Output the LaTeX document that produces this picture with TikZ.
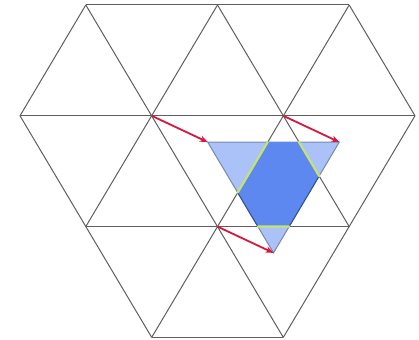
\documentclass[tikz,border=0pt]{standalone}
\usetikzlibrary{arrows.meta,calc}
\definecolor{lightb}{RGB}{170,194,248}
\definecolor{darkb}{RGB}{92,136,240}
\definecolor{edgeb}{RGB}{120,136,170}
\definecolor{edged}{RGB}{50,80,150}
\definecolor{greenl}{RGB}{196,228,110}
\definecolor{redarr}{RGB}{216,22,62}
\definecolor{latt}{RGB}{95,95,95}
\tikzset{
  lattice/.style={draw=latt, line width=0.5pt},
  shift arrow/.style={draw=redarr, line width=0.9pt, -{Stealth[length=4pt,width=3.2pt]}},
  greenedge/.style={draw=greenl, line width=1.1pt, line cap=round},
}
\begin{document}
\begin{tikzpicture}[x=0.5pt,y=-0.5pt]
\useasboundingbox (0,0) rectangle (419,340);
\fill[white] (0,0) rectangle (419,340);
% lattice points
\coordinate (T1) at (85.8,5);
\coordinate (T2) at (217.5,5);
\coordinate (T3) at (349.2,5);
\coordinate (M0) at (20,115.8);
\coordinate (M1) at (151.7,115.8);
\coordinate (M2) at (283.3,115.8);
\coordinate (M3) at (415,115.8);
\coordinate (L1) at (85.8,226.6);
\coordinate (L2) at (217.5,226.6);
\coordinate (L3) at (349.2,226.6);
\coordinate (B1) at (151.7,337.4);
\coordinate (B2) at (283.3,337.4);
% translated triangle
\coordinate (M1s) at ($(M1)+(56,26.3)$);
\coordinate (M2s) at ($(M2)+(56,26.3)$);
\coordinate (L2s) at ($(L2)+(56,26.3)$);
% hexagon (overlap)
\coordinate (P1) at (intersection of M2--L2 and M1s--M2s);
\coordinate (P2) at (intersection of M2--L3 and M1s--M2s);
\coordinate (P3) at (intersection of M2--L3 and M2s--L2s);
\coordinate (P4) at (intersection of L2--L3 and M2s--L2s);
\coordinate (P5) at (intersection of L2--L3 and M1s--L2s);
\coordinate (P6) at (intersection of M2--L2 and M1s--L2s);
% fills
\filldraw[fill=lightb, draw=edgeb, line width=0.5pt] (M1s) -- (M2s) -- (L2s) -- cycle;
\fill[darkb] (P1) -- (P2) -- (P3) -- (P4) -- (P5) -- (P6) -- cycle;
\draw[edged, line width=0.5pt] (P3) -- (P4) (P5) -- (P6);
% lattice
\path[lattice] (T1) -- (T3) (M0) -- (M3) (L1) -- (L3) (B1) -- (B2);
\path[lattice] (T1) -- (B2) (T2) -- (L3) (T3) -- (M3) (M0) -- (B1);
\path[lattice] (T1) -- (M0) (T2) -- (L1) (T3) -- (B1) (M3) -- (B2);
% green edges
\path[greenedge] (P1) -- (P6) (P2) -- (P3) (P5) -- (P4);
% arrows
\path[shift arrow] (M1) -- (M1s);
\path[shift arrow] (M2) -- (M2s);
\path[shift arrow] (L2) -- (L2s);
\end{tikzpicture}
\end{document}
